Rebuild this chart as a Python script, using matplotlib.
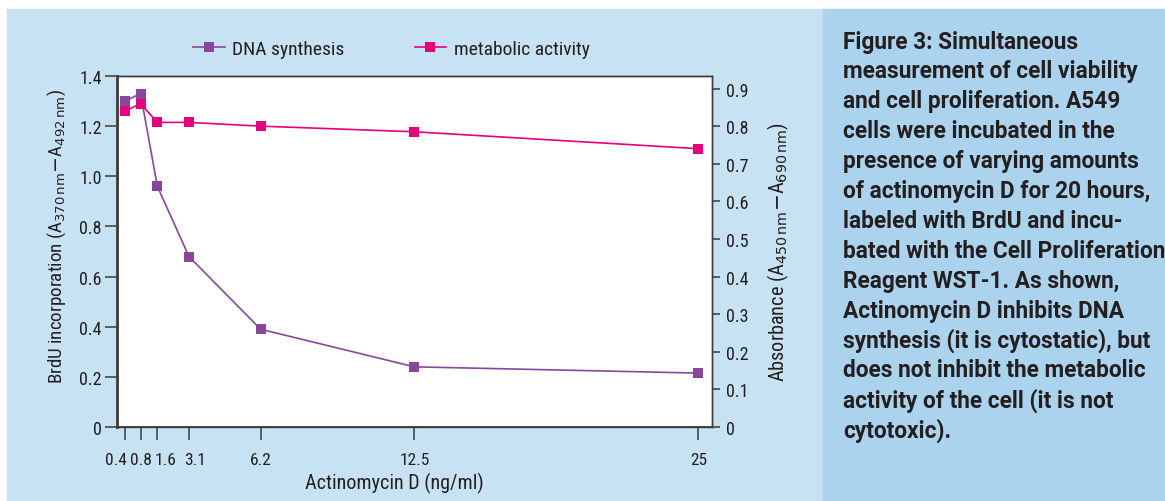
import numpy as np
import matplotlib
matplotlib.use("Agg")
import matplotlib.pyplot as plt
import matplotlib.transforms as mtransforms
from matplotlib.lines import Line2D

NARROW = ['Liberation Sans Narrow', 'Roboto Condensed', 'Roboto', 'DejaVu Sans']
plt.rcParams['font.family'] = NARROW
plt.rcParams['mathtext.fontset'] = 'custom'
plt.rcParams['mathtext.rm'] = 'Liberation Sans Narrow'
plt.rcParams['mathtext.it'] = 'Liberation Sans Narrow:italic'
plt.rcParams['mathtext.bf'] = 'Liberation Sans Narrow:bold'

# ── data ────────────────────────────────────────────────────────────────
dose = [0.4, 0.8, 1.6, 3.1, 6.2, 12.5, 25]            # actinomycin D, ng/ml
dna_synthesis = [1.30, 1.33, 0.96, 0.68, 0.39, 0.24, 0.215]   # BrdU, left axis
metabolic = [0.84, 0.86, 0.81, 0.81, 0.80, 0.785, 0.74]       # WST-1, right axis
dose_ticks = [0.4, 0.8, 1.6, 3.1, 6.2, 12.5, 25]
dose_labels = ['0.4', '0.8', '1.6', '3.1', '6.2', '12.5', '25']
left_ticks = [0, 0.2, 0.4, 0.6, 0.8, 1.0, 1.2, 1.4]
left_labels = ['0', '0.2', '0.4', '0.6', '0.8', '1.0', '1.2', '1.4']
right_ticks = [0, 0.1, 0.2, 0.3, 0.4, 0.5, 0.6, 0.7, 0.8, 0.9]
right_labels = ['0', '0.1', '0.2', '0.3', '0.4', '0.5', '0.6', '0.7', '0.8', '0.9']

caption = [
    "Figure 3: Simultaneous",
    "measurement of cell viability",
    "and cell proliferation. A549",
    "cells were incubated in the",
    "presence of varying amounts",
    "of actinomycin D for 20 hours,",
    "labeled with BrdU and incu-",
    "bated with the Cell Proliferation",
    "Reagent WST-1. As shown,",
    "Actinomycin D inhibits DNA",
    "synthesis (it is cytostatic), but",
    "does not inhibit the metabolic",
    "activity of the cell (it is not",
    "cytotoxic).",
]

# ── style ───────────────────────────────────────────────────────────────
PURPLE = '#87489c'
MAGENTA = '#e6007e'
PANEL_L = '#c7e2f3'
PANEL_R = '#abd3ee'
INK = '#231f20'

# the original x axis is stretched a little at the low doses so the
# first ticks do not collide
knots_in = [0, 0.4, 0.8, 1.6, 3.1, 6.2, 12.5, 40]
knots_out = [0, 0.36, 1.02, 1.75, 3.12, 6.23, 12.9, 40]
fwd = lambda x: np.interp(x, knots_in, knots_out)
inv = lambda x: np.interp(x, knots_out, knots_in)

W, H = 1165, 502
fig = plt.figure(figsize=(W / 100, H / 100), dpi=100)
fig.patch.set_facecolor('white')

# background panels
fig.add_artist(plt.Rectangle((7 / W, 0), (823 - 7) / W, (H - 10) / H,
                             transform=fig.transFigure, color=PANEL_L, zorder=0))
fig.add_artist(plt.Rectangle((823 / W, 0), (W - 823) / W, (H - 10) / H,
                             transform=fig.transFigure, color=PANEL_R, zorder=0))

ax = fig.add_axes([117 / W, (H - 428) / H, (712 - 117) / W, (428 - 77) / H])
ax.set_facecolor('white')
ax.set_xscale('function', functions=(fwd, inv))
ax.set_xlim(0, 25.6)
ax.set_ylim(0, 1.4)

ax2 = ax.twinx()
ax2.set_ylim(0, 1.4 / 1.5)

ax.plot(dose, dna_synthesis, '-s', color=PURPLE, lw=1.2, ms=7.6,
        markeredgewidth=0, zorder=3, clip_on=False)
ax2.plot(dose, metabolic, '-s', color=MAGENTA, lw=1.2, ms=7.6,
         markeredgewidth=0, zorder=3, clip_on=False)

for a in (ax, ax2):
    for sp in a.spines.values():
        sp.set_color('#3a3a3a')
        sp.set_linewidth(1.0)
ax.spines['left'].set_linewidth(2.2)
ax.spines['left'].set_color('#555555')
ax.spines['bottom'].set_linewidth(1.3)

ax.set_xticks(dose_ticks)
ax.set_xticklabels(dose_labels)
ax.minorticks_off()
ax.set_yticks(left_ticks)
ax.set_yticklabels(left_labels)
ax2.set_yticks(right_ticks)
ax2.set_yticklabels(right_labels)

ax.tick_params(axis='both', direction='out', length=9, width=1.1,
               color='#3a3a3a', labelcolor=INK, labelsize=13)
ax.tick_params(axis='x', pad=9, labelsize=12.5)
ax.tick_params(axis='y', pad=2)
ax2.tick_params(axis='y', direction='out', length=6, width=1.1,
                color='#3a3a3a', labelcolor=INK, labelsize=13, pad=4)

# nudge the crowded low-dose labels apart, like the original
nudges = [-9, 0, 8, 6, 0, 0, 0]
for lab, dx in zip(ax.get_xticklabels(), nudges):
    if dx:
        lab.set_transform(lab.get_transform() +
                          mtransforms.ScaledTranslation(dx / 100, 0, fig.dpi_scale_trans))

ax.set_ylabel(r'BrdU incorporation (A$_{370\,\mathrm{nm}}$$-$A$_{492\,\mathrm{nm}}$)',
              fontsize=13.7, color=INK)
ax2.set_ylabel(r'Absorbance (A$_{450\,\mathrm{nm}}$$-$A$_{690\,\mathrm{nm}}$)',
               fontsize=14.6, color=INK, labelpad=12)
ax.set_xlabel('Actinomycin D (ng/ml)', fontsize=14.5, color=INK)
ax.xaxis.set_label_coords((394 - 117) / 595, -(483 - 428) / 351)
ax.xaxis.label.set_va('center')
ax.yaxis.label.set_va('center')
ax.yaxis.set_label_coords(-(117 - 57) / 595, (428 - 236.5) / 351)

handles = [Line2D([], [], color=PURPLE, marker='s', lw=1.2, ms=7.6, markeredgewidth=0),
           Line2D([], [], color=MAGENTA, marker='s', lw=1.2, ms=7.6, markeredgewidth=0)]
fig.legend(handles, ['DNA synthesis', 'metabolic activity'], ncol=2,
           loc='center', bbox_to_anchor=(391.5 / W, (H - 50) / H), frameon=False,
           fontsize=14, handlelength=1.6, columnspacing=3.6, handletextpad=0.4,
           labelcolor=INK)

for i, line in enumerate(caption):
    fig.text(843 / W, (H - 42 - i * 29.9) / H, line, fontsize=16.3,
             fontweight='bold', color=INK, va='center', ha='left',
             family=['Roboto', 'DejaVu Sans'])

fig.savefig('out.png', dpi=100)
